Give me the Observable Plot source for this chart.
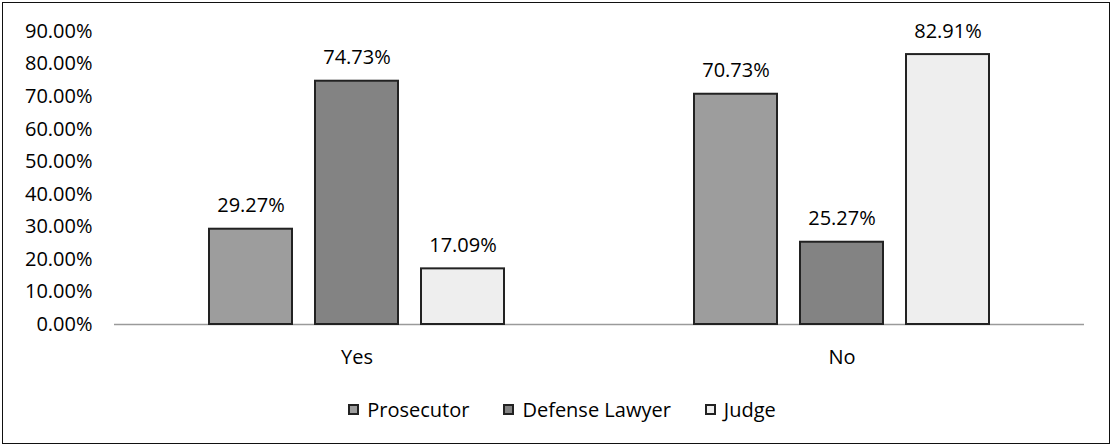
<!DOCTYPE html>
<html>
<head>
<meta charset="utf-8">
<script src="https://cdn.jsdelivr.net/npm/d3@7"></script>
<script src="https://cdn.jsdelivr.net/npm/@observablehq/plot@0.6"></script>
<style>
  body { margin: 0; background: #fff; font-family: "Open Sans", sans-serif; }
  #wrap { position: relative; width: 1114px; height: 447px; overflow: hidden; background: #fff; }
  #border { position: absolute; left: 2px; top: 2px; width: 1108px; height: 442px; border: 1.5px solid #111; box-sizing: border-box; pointer-events: none; }
  #legend { position: absolute; left: 0; top: 396px; width: 1124px; height: 26px; display: flex; justify-content: center; align-items: center; font-size: 20px; color: #000; }
  .item { display: flex; align-items: center; margin: 0 17px; }
  .sw { width: 11px; height: 11px; box-sizing: border-box; border: 2px solid #222; margin-right: 8px; }
</style>
</head>
<body>
<div id="wrap">
  <div id="chart"></div>
  <div id="legend"></div>
  <div id="border"></div>
</div>
<script>
const groups = ["Yes", "No"];
const series = ["Prosecutor", "Defense Lawyer", "Judge"];
const yesValues = [0.2927, 0.7473, 0.1709];
const noValues = [0.7073, 0.2527, 0.8291];
const yTicks = [0, 0.1, 0.2, 0.3, 0.4, 0.5, 0.6, 0.7, 0.8, 0.9];
const colors = ["#9d9d9d", "#838383", "#eeeeee"];

const data = [];
series.forEach((s, i) => data.push({group: "Yes", series: s, value: yesValues[i]}));
series.forEach((s, i) => data.push({group: "No", series: s, value: noValues[i]}));

const fmt = d3.format(".2%");

const chart = Plot.plot({
  width: 1114,
  height: 390,
  marginLeft: 114,
  marginRight: 30,
  marginTop: 31,
  marginBottom: 66,
  style: { fontFamily: "Open Sans", fontSize: "20px", color: "#000", background: "transparent" },
  fx: { domain: groups, padding: 0 },
  x: { domain: series, paddingInner: 0.215, paddingOuter: 0.874, axis: null },
  y: { domain: [0, 0.9], axis: null },
  color: { domain: series, range: colors },
  marks: [
    Plot.ruleY([0], { stroke: "#9a9a9a", strokeWidth: 1.5 }),
    Plot.barY(data, { fx: "group", x: "series", y: "value", fill: "series", stroke: "#222", strokeWidth: 2 }),
    Plot.text(data, { fx: "group", x: "series", y: "value", text: d => fmt(d.value), lineAnchor: "bottom", dy: -17, fill: "#000", fontSize: 20 }),
    Plot.axisY(yTicks, { tickSize: 0, tickPadding: 22, tickFormat: fmt, fontSize: 20, label: null, fill: "#000" }),
    Plot.axisFx({ anchor: "bottom", tickSize: 0, tickPadding: 25, label: null, fontSize: 20, fill: "#000" })
  ]
});
document.getElementById("chart").appendChild(chart);

const legend = document.getElementById("legend");
series.forEach((s, i) => {
  const item = document.createElement("div");
  item.className = "item";
  const sw = document.createElement("div");
  sw.className = "sw";
  sw.style.background = colors[i];
  const t = document.createElement("span");
  t.textContent = s;
  item.appendChild(sw);
  item.appendChild(t);
  legend.appendChild(item);
});
</script>
</body>
</html>
